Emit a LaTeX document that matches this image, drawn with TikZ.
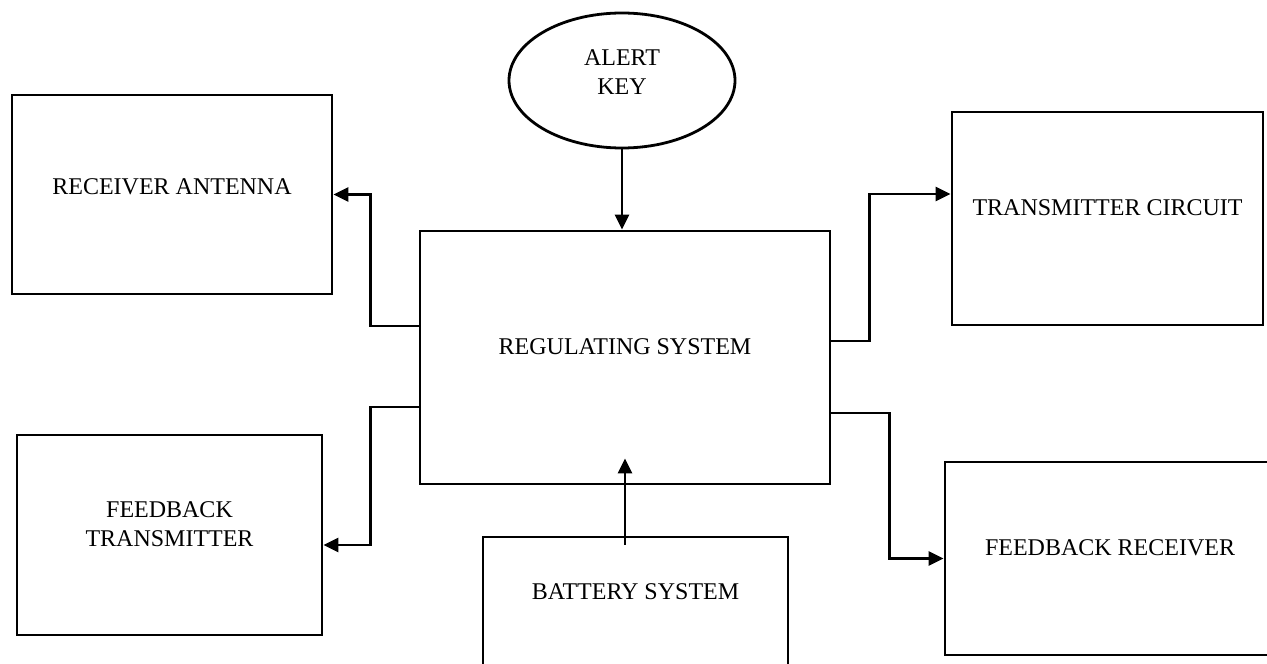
\documentclass[tikz,border=0pt]{standalone}
\usepackage{fontspec}
\setmainfont{Liberation Serif}
\usepackage{tikz}
\usetikzlibrary{shapes.geometric, arrows.meta}

\tikzset{
blk/.style={draw, line width=1.4pt, rectangle, align=center, font=\fontsize{12}{14.5}\selectfont, text depth=11pt},
arr/.style={line width=1.4pt, -{Triangle[length=7.5pt, width=7pt]}}
}

\begin{document}
\begin{tikzpicture}[x=0.5pt, y=-0.5pt]
\useasboundingbox (0,0) rectangle (1267,663);
\node[blk, ellipse, minimum width=113pt, minimum height=67.5pt, text depth=8pt] (key) at (622,80.5) {ALERT\\KEY};
\node[blk, minimum width=205pt, minimum height=126.5pt] (reg) at (625,357.5) {REGULATING SYSTEM};
\node[blk, minimum width=160pt, minimum height=99.5pt, text depth=7.5pt] (ant) at (172,194.5) {RECEIVER ANTENNA};
\node[blk, minimum width=152.5pt, minimum height=100pt] (fbt) at (169.5,535) {FEEDBACK\\TRANSMITTER};
\node[blk, minimum width=155.5pt, minimum height=106.5pt] (tx) at (1107.5,218.5) {TRANSMITTER CIRCUIT};
\node[blk, minimum width=165pt, minimum height=96.5pt] (frx) at (1110,558.5) {FEEDBACK RECEIVER};
\node[blk, minimum width=152.5pt, minimum height=71.5pt, text depth=16.5pt] (bat) at (635.5,608.5) {BATTERY SYSTEM};

\draw[arr] (key.south) -- (key.south |- reg.north);
\draw[arr] ([yshift=15.75pt]reg.west) -- ++(-48,0) |- (ant.east);
\draw[arr] ([yshift=-24.75pt]reg.west) -- ++(-48,0) |- ([yshift=-5pt]fbt.east);
\draw[arr] ([yshift=8.25pt]reg.east) -- ++(38,0) |- ([yshift=12.25pt]tx.west);
\draw[arr] ([yshift=-27.75pt]reg.east) -- ++(58,0) |- (frx.west);
\draw[arr] ([yshift=-4.5pt]reg.south |- bat.north) -- ([yshift=13.5pt]reg.south);
\end{tikzpicture}
\end{document}
